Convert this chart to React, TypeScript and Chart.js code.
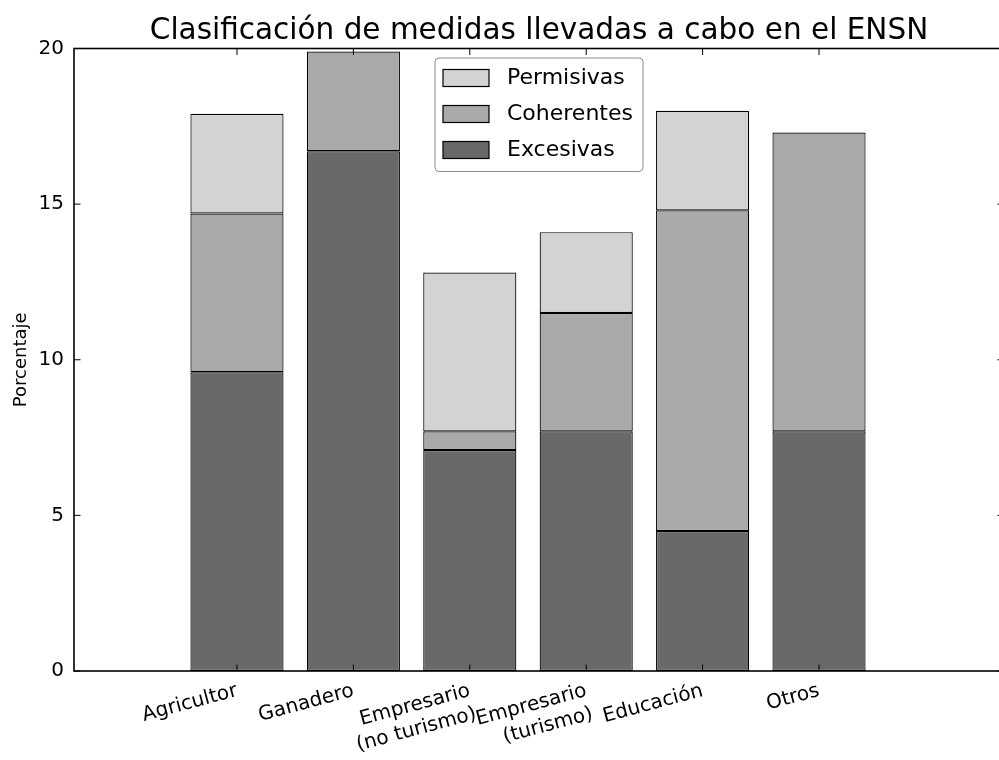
import React, { useEffect, useRef } from "react";
import { Chart, registerables } from "chart.js";

Chart.register(...registerables);

const chartTitle = "Clasificación de medidas llevadas a cabo en el ENSN";
const yAxisLabel = "Porcentaje";
const categories: string[][] = [
  ["Agricultor"],
  ["Ganadero"],
  ["Empresario", "(no turismo)"],
  ["Empresario", "(turismo)"],
  ["Educación"],
  ["Otros"],
];
const excesivas = [9.6, 16.7, 7.1, 7.7, 4.5, 7.7];
const coherentes = [5.1, 3.2, 0.6, 3.8, 10.3, 9.6];
const permisivas = [3.2, 0, 5.1, 2.6, 3.2, 0];
const yTicks = [0, 5, 10, 15, 20];

const FONT = '"DejaVu Sans", sans-serif';

function rrect(ctx: CanvasRenderingContext2D, x: number, y: number, w: number, h: number, r: number) {
  ctx.beginPath();
  ctx.moveTo(x + r, y);
  ctx.arcTo(x + w, y, x + w, y + h, r);
  ctx.arcTo(x + w, y + h, x, y + h, r);
  ctx.arcTo(x, y + h, x, y, r);
  ctx.arcTo(x, y, x + w, y, r);
  ctx.closePath();
}

const framePlugin = {
  id: "frameDecor",
  afterDatasetsDraw(chart: any) {
    const { ctx, chartArea: a, scales } = chart;
    const xs = scales.x;
    const ys = scales.y;
    const TL = 6.5;
    ctx.save();
    ctx.strokeStyle = "#000";
    ctx.lineWidth = 1;
    const line = (x1: number, y1: number, x2: number, y2: number) => {
      ctx.beginPath();
      ctx.moveTo(x1, y1);
      ctx.lineTo(x2, y2);
      ctx.stroke();
    };
    for (const t of ys.ticks) {
      const py = ys.getPixelForValue(t.value);
      line(a.left, py, a.left + TL, py);
      line(a.right - TL, py, a.right, py);
    }
    for (const t of xs.ticks) {
      const px = xs.getPixelForValue(t.value);
      line(px, a.bottom, px, a.bottom - TL);
      line(px, a.top, px, a.top + TL);
    }
    ctx.lineWidth = 1.6;
    ctx.strokeRect(a.left, a.top, a.right - a.left, a.bottom - a.top);

    // legend
    const lx = 435, ly = 58, lw = 208, lh = 113.5;
    ctx.fillStyle = "#fff";
    rrect(ctx, lx, ly, lw, lh, 4);
    ctx.fill();
    ctx.lineWidth = 1;
    ctx.strokeStyle = "#8c8c8c";
    ctx.stroke();
    const ds = chart.data.datasets.slice().reverse();
    ctx.font = `22px ${FONT}`;
    ctx.textBaseline = "middle";
    ctx.textAlign = "left";
    ds.forEach((d: any, i: number) => {
      const cy = 78 + i * 36;
      ctx.fillStyle = d.backgroundColor;
      ctx.fillRect(443, cy - 8.5, 46, 17);
      ctx.strokeStyle = "#000";
      ctx.lineWidth = 1.2;
      ctx.strokeRect(443, cy - 8.5, 46, 17);
      ctx.fillStyle = "#000";
      ctx.fillText(d.label, 507, cy);
    });

    // title
    ctx.font = `29.5px ${FONT}`;
    ctx.textAlign = "center";
    ctx.textBaseline = "alphabetic";
    ctx.fillStyle = "#000";
    ctx.fillText(chartTitle, (a.left + a.right) / 2, 39);
    ctx.restore();
  },
};

export default function App() {
  const ref = useRef<HTMLCanvasElement>(null);
  useEffect(() => {
    document.body.style.margin = "0";
    document.body.style.overflow = "hidden";
    const canvas = ref.current!;
    const mk = (arr: number[]) => arr.map((v, i) => ({ x: i, y: v }));
    const common = { borderColor: "#000", borderWidth: 1.2, borderSkipped: false as const, barPercentage: 1, categoryPercentage: 0.8 };
    const chart = new Chart(canvas, {
      type: "bar",
      data: {
        datasets: [
          { label: "Excesivas", data: mk(excesivas), backgroundColor: "#696969", ...common },
          { label: "Coherentes", data: mk(coherentes), backgroundColor: "#a9a9a9", ...common },
          { label: "Permisivas", data: mk(permisivas), backgroundColor: "#d3d3d3", ...common },
        ],
      },
      options: {
        responsive: false,
        animation: false,
        devicePixelRatio: 1,
        layout: { padding: { top: 48.5, right: 2, left: 0, bottom: 0 } },
        plugins: { legend: { display: false }, title: { display: false }, tooltip: { enabled: false } },
        scales: {
          x: {
            type: "linear",
            stacked: true,
            offset: false,
            min: -1.4,
            max: 6.589,
            afterBuildTicks: (s: any) => {
              s.ticks = categories.map((_, i) => ({ value: i }));
            },
            afterFit: (s: any) => {
              s.height = 89;
            },
            grid: { display: false, drawTicks: false, offset: false },
            border: { display: false },
            ticks: {
              autoSkip: false,
              minRotation: 15,
              maxRotation: 15,
              padding: 8,
              color: "#000",
              font: { family: FONT, size: 20 },
              callback: (v: any) => categories[v as number] ?? "",
            },
          },
          y: {
            stacked: true,
            min: 0,
            max: 20,
            afterBuildTicks: (s: any) => {
              s.ticks = yTicks.map((v) => ({ value: v }));
            },
            afterFit: (s: any) => {
              s.width = 74;
            },
            grid: { display: false, drawTicks: false },
            border: { display: false },
            ticks: { padding: 10, color: "#000", font: { family: FONT, size: 20 } },
            title: { display: true, text: yAxisLabel, color: "#000", font: { family: FONT, size: 18 }, padding: { top: 11, bottom: 0 } },
          },
        },
      },
      plugins: [framePlugin],
    } as any);
    return () => chart.destroy();
  }, []);
  return (
    <div style={{ width: 999, height: 760, overflow: "hidden" }}>
      <canvas ref={ref} width={1006} height={760} style={{ width: 1006, height: 760, display: "block" }} />
    </div>
  );
}
